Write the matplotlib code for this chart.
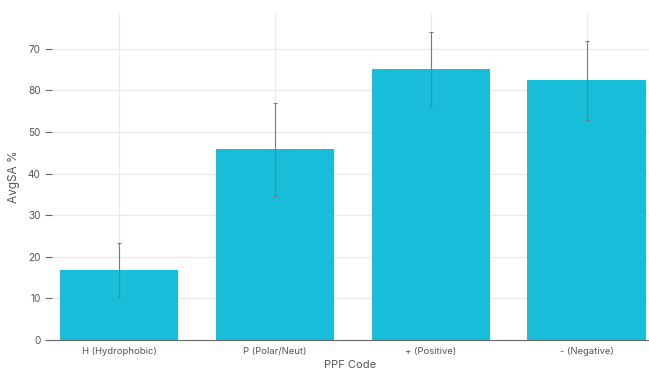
import matplotlib
matplotlib.use("Agg")
import matplotlib.pyplot as plt
import numpy as np

plt.rcParams.update({
    "font.family": ["Inter", "Liberation Sans", "DejaVu Sans"],
})

# data
categories = ["H (Hydrophobic)", "P (Polar/Neut)", "+ (Positive)", "- (Negative)"]
mean_rsa = [16.8, 45.8, 65.1, 62.4]
err_rsa = [6.5, 11.2, 9.0, 9.6]
ytick_vals = [0, 10, 20, 30, 40, 50, 60, 70]
ytick_text = ["0", "10", "20", "30", "40", "50", "80", "70"]  # as printed

BAR_COLOR = "#18BDD9"
GRID = "#e8e8e8"
TXT = "#555555"

fig = plt.figure(figsize=(6.49, 3.74), dpi=100)
ax = fig.add_axes([0.080, 0.091, 0.92, 0.874])

x = np.arange(len(categories))
ax.bar(x, mean_rsa, width=0.76, color=BAR_COLOR, zorder=2)
ax.errorbar(x, mean_rsa, yerr=err_rsa, fmt="none", ecolor="#7a7a7a",
            elinewidth=0.8, capsize=1.5, capthick=0.8, zorder=3)

ax.set_xlim(-0.43, 3.40)
ax.set_ylim(0, 78.6)
ax.set_xticks(x)
ax.set_xticklabels(categories, fontsize=6.8, color=TXT)
ax.set_yticks(ytick_vals)
ax.set_yticklabels(ytick_text, fontsize=7.2, color=TXT)

ax.grid(True, color=GRID, linewidth=0.8, zorder=0)
ax.set_axisbelow(True)
for s in ["top", "right", "left"]:
    ax.spines[s].set_visible(False)
ax.spines["bottom"].set_color("#666666")
ax.spines["bottom"].set_linewidth(0.8)
ax.tick_params(axis="x", length=0, pad=5)
ax.tick_params(axis="y", length=5, color="#666666", width=0.8, pad=3)

ax.set_xlabel("PPF Code", fontsize=8, color=TXT, labelpad=3)
ax.set_ylabel("AvgSA %", fontsize=8.5, color=TXT, labelpad=6)

fig.savefig("out.png", dpi=100)
plt.close(fig)
